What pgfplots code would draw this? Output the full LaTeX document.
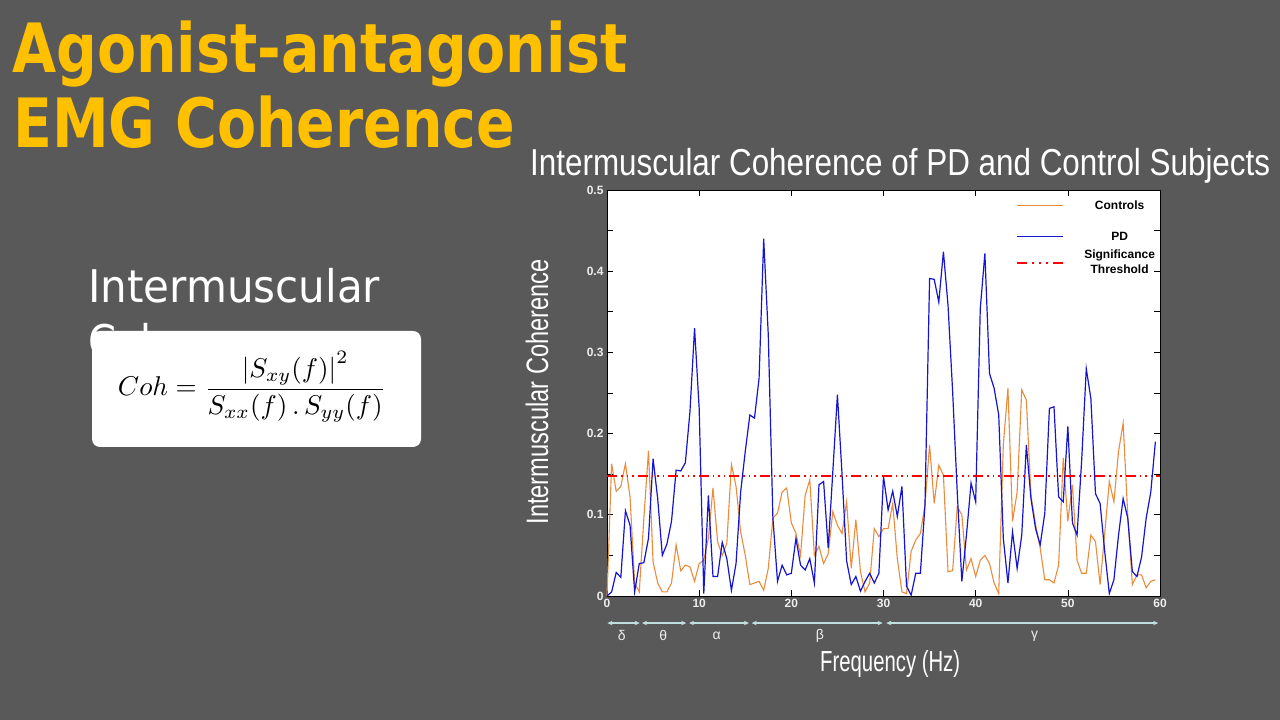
\documentclass[border=0pt]{standalone}
\usepackage{fontspec}
\setmainfont{Liberation Sans}
\newfontfamily\djv{DejaVu Sans}
\usepackage{pgfplots}
\usepackage{pgfplotstable}
\pgfplotsset{compat=1.18}
\usetikzlibrary{arrows.meta}
\definecolor{bgc}{HTML}{595959}
\definecolor{gold}{HTML}{FFC000}
\definecolor{ctrlc}{HTML}{EB8C3C}
\definecolor{pdb}{HTML}{1414D2}
\definecolor{thr}{HTML}{FF0000}
\definecolor{bandc}{HTML}{BFE0DE}
\definecolor{tlab}{HTML}{EEEEEE}

\pgfplotstableread{
f pd ctrl
0.0 0.000 0.000
0.5 0.005 0.163
1.0 0.029 0.129
1.5 0.023 0.135
2.0 0.105 0.163
2.5 0.087 0.122
3.0 0.005 0.016
3.5 0.040 0.005
4.0 0.041 0.096
4.5 0.071 0.179
5.0 0.169 0.042
5.5 0.120 0.016
6.0 0.050 0.005
6.5 0.064 0.005
7.0 0.092 0.016
7.5 0.155 0.063
8.0 0.154 0.031
8.5 0.164 0.038
9.0 0.227 0.036
9.5 0.330 0.018
10.0 0.231 0.040
10.5 0.003 0.044
11.0 0.124 0.071
11.5 0.024 0.133
12.0 0.024 0.067
12.5 0.066 0.050
13.0 0.046 0.065
13.5 0.007 0.162
14.0 0.040 0.135
14.5 0.128 0.079
15.0 0.178 0.050
15.5 0.223 0.014
16.0 0.219 0.016
16.5 0.268 0.018
17.0 0.440 0.007
17.5 0.321 0.034
18.0 0.096 0.096
18.5 0.018 0.102
19.0 0.038 0.128
19.5 0.026 0.133
20.0 0.028 0.090
20.5 0.071 0.077
21.0 0.038 0.050
21.5 0.032 0.124
22.0 0.046 0.143
22.5 0.016 0.050
23.0 0.137 0.061
23.5 0.141 0.040
24.0 0.059 0.052
24.5 0.153 0.104
25.0 0.248 0.087
25.5 0.150 0.077
26.0 0.043 0.116
26.5 0.014 0.034
27.0 0.024 0.094
27.5 0.006 0.030
28.0 0.018 0.005
28.5 0.028 0.016
29.0 0.016 0.083
29.5 0.028 0.073
30.0 0.147 0.083
30.5 0.106 0.083
31.0 0.129 0.114
31.5 0.098 0.046
32.0 0.135 0.005
32.5 0.012 0.003
33.0 0.001 0.055
33.5 0.028 0.069
34.0 0.028 0.077
34.5 0.112 0.112
35.0 0.391 0.186
35.5 0.390 0.114
36.0 0.362 0.161
36.5 0.424 0.149
37.0 0.358 0.030
37.5 0.252 0.031
38.0 0.128 0.110
38.5 0.018 0.100
39.0 0.075 0.032
39.5 0.139 0.046
40.0 0.116 0.024
40.5 0.354 0.044
41.0 0.422 0.050
41.5 0.274 0.040
42.0 0.256 0.016
42.5 0.223 0.003
43.0 0.071 0.186
43.5 0.016 0.256
44.0 0.079 0.092
44.5 0.034 0.128
45.0 0.075 0.254
45.5 0.186 0.241
46.0 0.120 0.124
46.5 0.083 0.088
47.0 0.063 0.059
47.5 0.102 0.020
48.0 0.231 0.020
48.5 0.233 0.016
49.0 0.122 0.038
49.5 0.116 0.170
50.0 0.209 0.092
50.5 0.090 0.137
51.0 0.075 0.044
51.5 0.167 0.028
52.0 0.280 0.028
52.5 0.243 0.075
53.0 0.126 0.067
53.5 0.114 0.014
54.0 0.055 0.077
54.5 0.003 0.141
55.0 0.020 0.116
55.5 0.075 0.178
56.0 0.120 0.213
56.5 0.096 0.100
57.0 0.030 0.014
57.5 0.024 0.026
58.0 0.048 0.026
58.5 0.096 0.010
59.0 0.128 0.018
59.5 0.190 0.020
}\coh

\begin{document}
\begin{tikzpicture}
\useasboundingbox (0,0) rectangle (1280pt,720pt);
\fill[bgc] (0,0) rectangle (1280pt,720pt);
% slide title
\node[anchor=base west, inner sep=0, text=gold] at (12pt,647pt)
  {\resizebox{615pt}{\height}{\djv\bfseries\fontsize{68}{70}\selectfont Agonist-antagonist}};
\node[anchor=base west, inner sep=0, text=gold] at (13pt,572pt)
  {\resizebox{502pt}{\height}{\djv\bfseries\fontsize{68}{70}\selectfont EMG Coherence}};
% side text
\node[anchor=base west, inner sep=0, text=white] at (88pt,417pt)
  {\resizebox{292pt}{\height}{\djv\fontsize{45}{50}\selectfont Intermuscular}};
\node[anchor=base west, inner sep=0, text=white] at (88pt,362pt)
  {\resizebox{215pt}{\height}{\djv\fontsize{45}{50}\selectfont Coherence}};
\fill[white, rounded corners=8pt] (92pt,273pt) rectangle (421pt,389pt);
\node at (252pt,333pt)
  {\resizebox{268pt}{!}{$\displaystyle Coh = \frac{\left|S_{xy}(f)\right|^{2}}{S_{xx}(f)\,.\,S_{yy}(f)}$}};
% chart title and axis labels
\node[anchor=base west, inner sep=0, text=white] at (530pt,544pt)
  {\resizebox{740pt}{\height}{\fontsize{37.5}{40}\selectfont Intermuscular Coherence of PD and Control Subjects}};
\node[rotate=90, anchor=base, inner sep=0, text=white] at (548pt,328pt)
  {\resizebox{265pt}{\height}{\fontsize{31}{33}\selectfont Intermuscular Coherence}};
\node[anchor=base west, inner sep=0, text=white] at (820pt,48pt)
  {\resizebox{140pt}{\height}{\fontsize{29}{31}\selectfont Frequency (Hz)}};

\begin{axis}[
  at={(607pt,124pt)}, anchor=south west,
  width=553pt, height=406pt, scale only axis,
  xmin=0, xmax=60, ymin=0, ymax=0.5,
  xtick={0,10,20,30,40,50,60},
  ytick={0,0.1,0.2,0.3,0.4,0.5},
  minor ytick={0.05,0.15,0.25,0.35,0.45},
  tick align=inside, major tick length=6pt, minor tick length=6pt,
  tick style={black, line width=0.6pt},
  axis line style={black, line width=0.8pt},
  axis background/.style={fill=white},
  ticklabel style={text=tlab, font=\fontsize{12}{13}\selectfont\bfseries},
  /pgf/number format/assume math mode=true,
  yticklabel style={/pgf/number format/fixed, /pgf/number format/precision=1},
  clip=false,
  legend cell align=center,
  legend style={at={(axis cs:44.1,0.492)}, anchor=north west, draw=none, fill=none,
    font=\fontsize{12}{13}\selectfont\bfseries, row sep=17pt, column sep=18pt},
]
\addplot[color=ctrlc, line width=1.1pt,
  legend image code/.code={\draw[ctrlc, line width=1.1pt] (0pt,0pt) -- (46pt,0pt);}]
  table[x=f, y=ctrl] {\coh};
\addlegendentry{Controls}
\addplot[color=pdb, line width=1.2pt,
  legend image code/.code={\draw[pdb, line width=1.2pt] (0pt,0pt) -- (46pt,0pt);}]
  table[x=f, y=pd] {\coh};
\addlegendentry{PD}
\addplot[draw=thr, line width=1.4pt, dash pattern=on 10pt off 4pt on 1.5pt off 4pt on 1.5pt off 4pt on 1.5pt off 4pt,
  legend image code/.code={\draw[draw=thr, line width=1.6pt, dash pattern=on 10pt off 5pt on 2pt off 5pt on 2pt off 5pt on 2pt off 5pt] (0pt,3pt) -- (46pt,3pt);}]
  coordinates {(0,0.148) (60,0.148)};
\addlegendentry{\raisebox{1.5pt}[5pt][2pt]{\begin{tabular}{@{}c@{}}Significance\\[2pt]Threshold\end{tabular}}}
% frequency bands
\begin{scope}[color=bandc, line width=1.2pt]
\draw[{Stealth[length=5pt,width=4.5pt]}-{Stealth[length=5pt,width=4.5pt]}] (axis cs:0.05,-0.0333) -- (axis cs:3.55,-0.0333);
\draw[{Stealth[length=5pt,width=4.5pt]}-{Stealth[length=5pt,width=4.5pt]}] (axis cs:3.8,-0.0333) -- (axis cs:8.6,-0.0333);
\draw[{Stealth[length=5pt,width=4.5pt]}-{Stealth[length=5pt,width=4.5pt]}] (axis cs:8.9,-0.0333) -- (axis cs:15.4,-0.0333);
\draw[{Stealth[length=5pt,width=4.5pt]}-{Stealth[length=5pt,width=4.5pt]}] (axis cs:15.7,-0.0333) -- (axis cs:29.9,-0.0333);
\draw[{Stealth[length=5pt,width=4.5pt]}-{Stealth[length=5pt,width=4.5pt]}] (axis cs:30.3,-0.0333) -- (axis cs:59.8,-0.0333);
\end{scope}
\begin{scope}[every node/.style={text=tlab, font=\fontsize{14}{15}\selectfont}]
\node at (axis cs:1.6,-0.049) {δ};
\node at (axis cs:6.1,-0.049) {θ};
\node at (axis cs:11.9,-0.049) {α};
\node at (axis cs:23.1,-0.049) {β};
\node at (axis cs:46.4,-0.049) {γ};
\end{scope}
\end{axis}
\end{tikzpicture}
\end{document}
